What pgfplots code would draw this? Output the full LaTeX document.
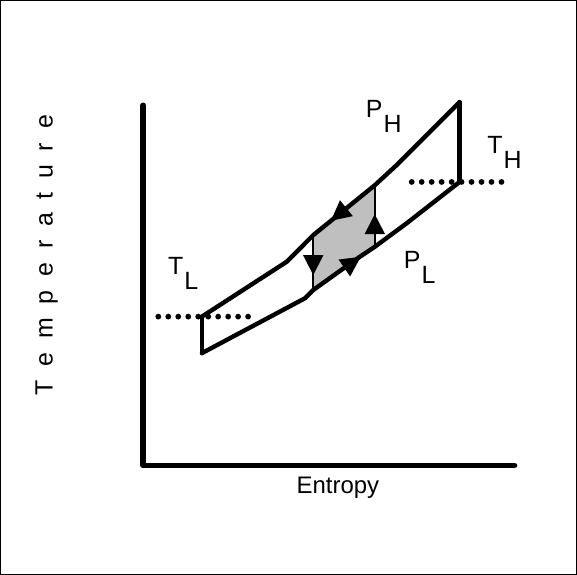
\documentclass[border=0pt]{standalone}
\usepackage{fontspec}
\setmainfont{Liberation Sans}
\usepackage{pgfplots}
\pgfplotsset{compat=1.18}
\usetikzlibrary{arrows.meta}

% coordinates are in picture pixels, y measured upward
\newcommand{\lab}[2]{#1\hspace{0.04em}\raisebox{-0.6em}{#2}}
\newcommand{\gap}{\hspace{0.55em}}

\begin{document}
\begin{tikzpicture}
\begin{axis}[
    width=288.5pt, height=287.5pt,
    scale only axis,
    xmin=0, xmax=577, ymin=0, ymax=575,
    ticks=none,
    axis line style={line width=0.7pt},
    clip=false,
    every axis plot/.append style={line join=round, line cap=round},
]
% axes
\addplot[line width=2.9pt, line cap=round] coordinates {(143,470) (143,109) (515,109)};

% shaded part of the cycle
\addplot[fill=gray!50, draw=none] coordinates {
    (313.3,285) (360,318.3) (375,328.3) (375,390) (313.3,340)} -- cycle;

% high pressure line
\addplot[line width=2.2pt] coordinates {
    (201.7,258.3) (286.7,313.3) (313.3,340) (375,390) (396.7,410) (460,473.3)};
% low pressure line
\addplot[line width=2.2pt] coordinates {
    (201.7,221.7) (305,276.7) (313.3,285) (360,318.3) (375,328.3) (406.7,351.7) (460,393.3)};
% end verticals
\addplot[line width=2.2pt] coordinates {(201.7,221.7) (201.7,258.3)};
\addplot[line width=2.2pt] coordinates {(460,393.3) (460,473.3)};
% inner verticals
\addplot[line width=1pt] coordinates {(313.3,285) (313.3,340)};
\addplot[line width=1pt] coordinates {(375,328.3) (375,390)};

% arrows
\addplot[line width=1pt, -{Triangle[length=10pt,width=10pt]}] coordinates {(352,371.4) (331,354.4)};
\addplot[line width=1pt, -{Triangle[length=10pt,width=10pt]}] coordinates {(340,304) (361,318.3)};
\addplot[line width=1pt, -{Triangle[length=10pt,width=10pt]}] coordinates {(313.3,322) (313.3,300)};
\addplot[line width=1pt, -{Triangle[length=10pt,width=10pt]}] coordinates {(375,340) (375,361)};

% isotherms
\addplot[line width=2.9pt, line cap=round, dash pattern=on 0pt off 5pt] coordinates {(158,258.3) (248.5,258.3)};
\addplot[line width=2.9pt, line cap=round, dash pattern=on 0pt off 5pt] coordinates {(412,393.3) (502.5,393.3)};

% labels
\node[font=\fontsize{12.5}{15}\selectfont] at (axis cs:384,459) {\lab{P}{H}};
\node[font=\fontsize{12.5}{15}\selectfont] at (axis cs:505,423) {\lab{T}{H}};
\node[font=\fontsize{12.5}{15}\selectfont] at (axis cs:183,302) {\lab{T}{L}};
\node[font=\fontsize{12.5}{15}\selectfont] at (axis cs:420,308) {\lab{P}{L}};
\node[font=\fontsize{12}{14}\selectfont] at (axis cs:338,87) {Entropy};
\node[font=\fontsize{12.5}{15}\selectfont, rotate=90] at (axis cs:46,320)
    {T\gap e\gap m\gap p\gap e\gap r\gap a\gap t\gap u\gap r\gap e};
\end{axis}
\end{tikzpicture}
\end{document}
